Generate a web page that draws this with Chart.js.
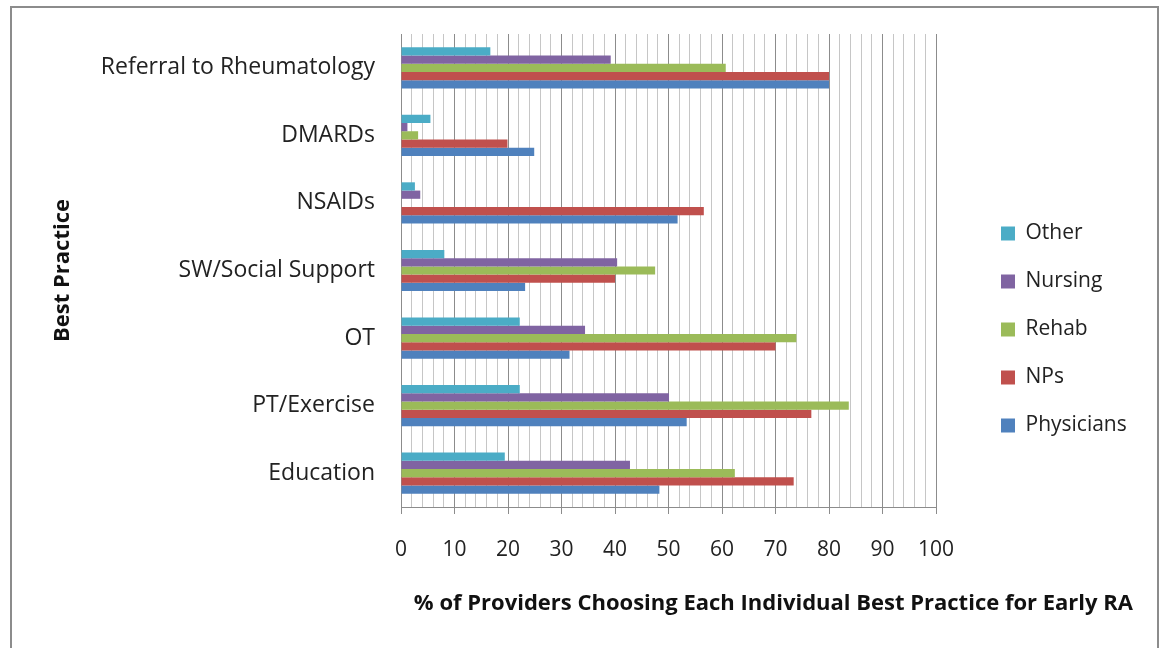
<!DOCTYPE html>
<html>
<head>
<meta charset="utf-8">
<script src="https://cdn.jsdelivr.net/npm/chart.js@4/dist/chart.umd.min.js"></script>
<style>
  html, body { margin: 0; padding: 0; background: #ffffff; }
  #wrap { position: relative; width: 1164px; height: 648px; overflow: hidden; }
  #frame { position: absolute; left: 10px; top: 6px; width: 1149px; height: 700px; border: 2px solid #8c8c8c; box-sizing: border-box; }
  #c { position: absolute; left: 0; top: 0; }
</style>
</head>
<body>
<div id="wrap">
  <div id="frame"></div>
  <canvas id="c" width="1164" height="648"></canvas>
</div>
<script>
const categories = ['Referral to Rheumatology', 'DMARDs', 'NSAIDs', 'SW/Social Support', 'OT', 'PT/Exercise', 'Education'];
const seriesNames = ['Other', 'Nursing', 'Rehab', 'NPs', 'Physicians'];
const other      = [16.7, 5.5, 2.6, 8.1, 22.2, 22.2, 19.4];
const nursing    = [39.2, 1.2, 3.6, 40.4, 34.4, 50.1, 42.8];
const rehab      = [60.7, 3.2, 0, 47.5, 73.9, 83.7, 62.4];
const nps        = [80.0, 19.9, 56.6, 40.0, 70.0, 76.7, 73.4];
const physicians = [80.0, 24.9, 51.7, 23.2, 31.5, 53.4, 48.3];
const xTickMin = 0, xTickMax = 100, xMinorStep = 2, xMajorStep = 10;
const xTitle = '% of Providers Choosing Each Individual Best Practice for Early RA';
const yTitle = 'Best Practice';

const colors = ['#4BACC6', '#8064A2', '#9BBB59', '#C0504D', '#4F81BD'];
const seriesValues = [other, nursing, rehab, nps, physicians];

Chart.defaults.font.family = "'Open Sans', sans-serif";
Chart.defaults.color = '#222222';

new Chart(document.getElementById('c'), {
  type: 'bar',
  data: {
    labels: categories,
    datasets: seriesNames.map((n, i) => ({
      label: n,
      data: seriesValues[i],
      backgroundColor: colors[i],
      borderWidth: 0,
      categoryPercentage: 0.61,
      barPercentage: 1.0
    }))
  },
  options: {
    indexAxis: 'y',
    responsive: false,
    animation: false,
    layout: { padding: { left: 50, top: 34, right: 31, bottom: 23 } },
    plugins: {
      tooltip: { enabled: false },
      title: {
        display: true,
        position: 'bottom',
        align: 'end',
        text: xTitle,
        color: '#111111',
        font: { size: 22, weight: 'bold' },
        padding: { top: 0, bottom: 8 }
      },
      legend: {
        position: 'right',
        maxWidth: 159,
        labels: {
          boxWidth: 14,
          boxHeight: 14,
          padding: 27,
          color: '#222222',
          font: { size: 21 }
        }
      }
    },
    scales: {
      x: {
        type: 'linear',
        min: xTickMin,
        max: xTickMax,
        afterFit: s => { s.height = 83.6; },
        ticks: {
          stepSize: xMinorStep,
          autoSkip: false,
          maxRotation: 0,
          padding: 23,
          color: '#222222',
          font: { size: 21 },
          callback: v => (v % xMajorStep === 0 ? String(v) : '')
        },
        grid: {
          color: c => (c.tick && c.tick.value % xMajorStep === 0 ? '#8c8c8c' : '#c6c6c6'),
          tickColor: c => (c.tick && c.tick.value % xMajorStep === 0 ? '#8c8c8c' : 'rgba(0,0,0,0)'),
          tickLength: 7,
          lineWidth: 1
        },
        border: { display: true, color: '#8c8c8c' }
      },
      y: {
        afterFit: s => { s.width = 351; },
        grid: { display: true, drawOnChartArea: false, drawTicks: true, tickLength: 26, tickColor: 'rgba(0,0,0,0)' },
        border: { display: true, color: '#8c8c8c' },
        ticks: {
          padding: 0,
          color: '#222222',
          font: { size: 23 }
        },
        title: {
          display: true,
          text: yTitle,
          color: '#111111',
          font: { size: 22, weight: 'bold' },
          padding: { top: 0, bottom: 0 }
        }
      },
      gap: {
        type: 'linear',
        position: 'right',
        display: true,
        afterFit: s => { s.width = 38; },
        grid: { display: false, drawTicks: false },
        border: { display: false },
        ticks: { display: false }
      }
    }
  }
});
</script>
</body>
</html>
